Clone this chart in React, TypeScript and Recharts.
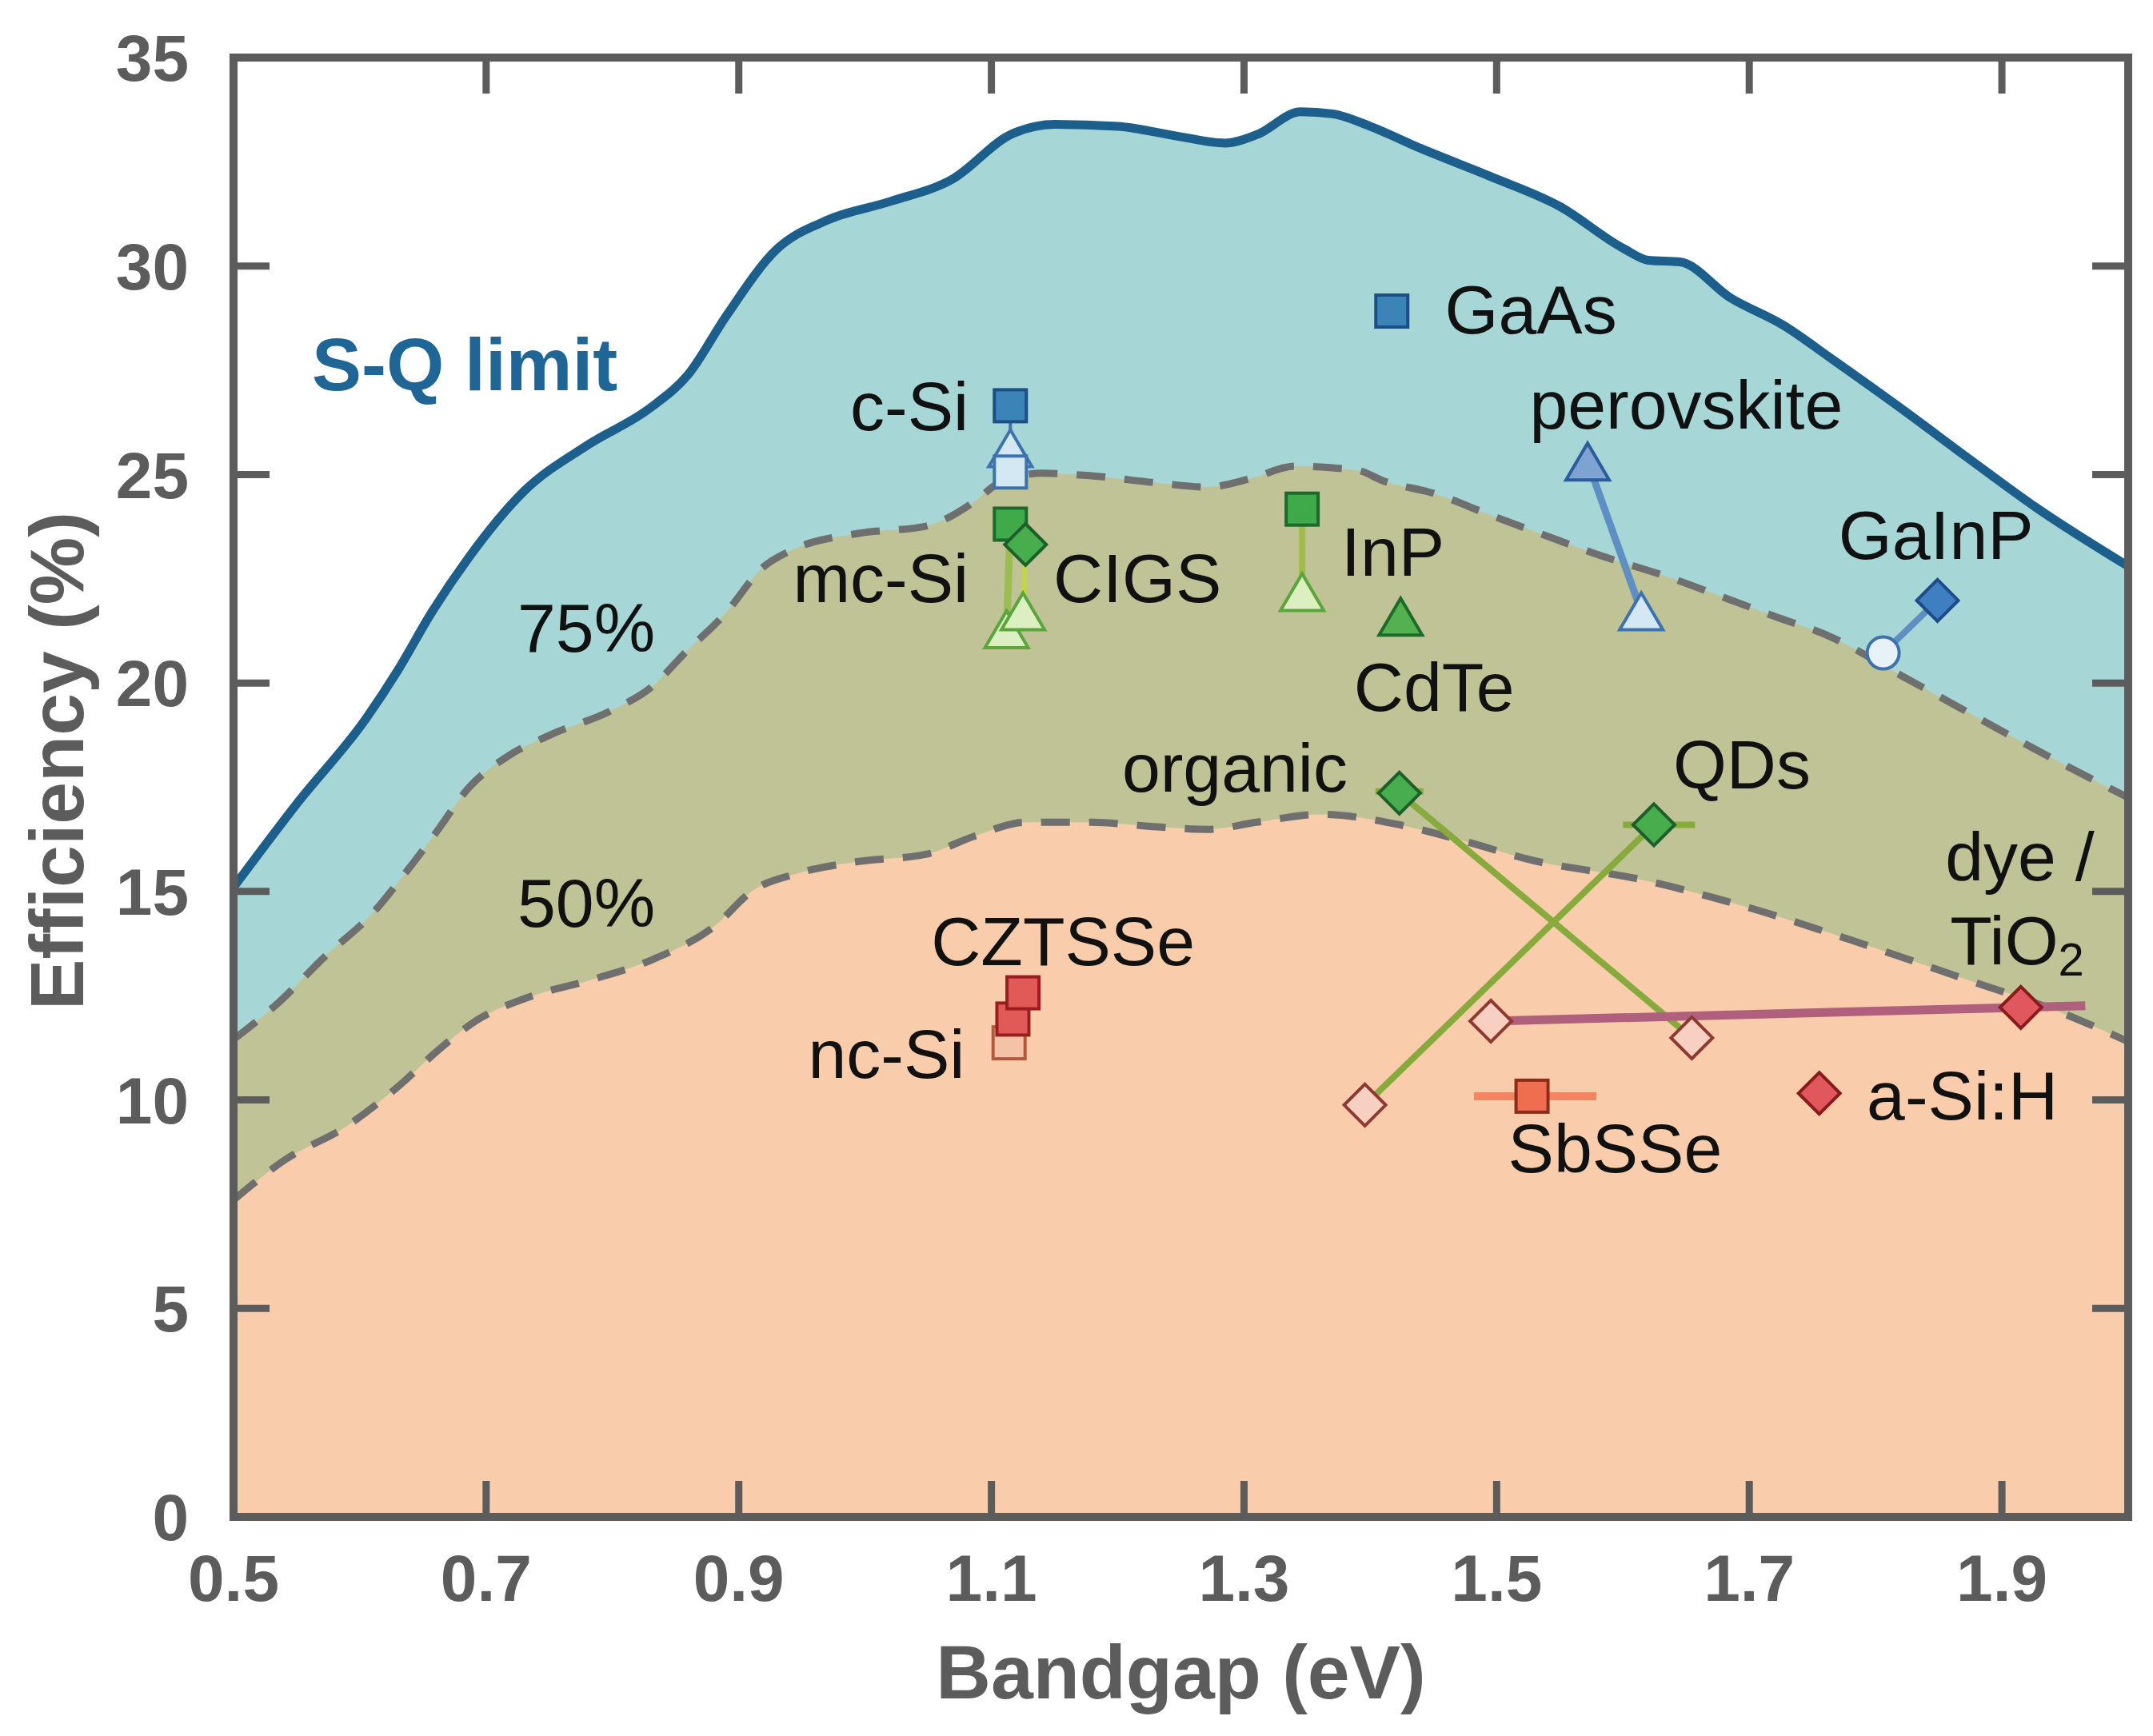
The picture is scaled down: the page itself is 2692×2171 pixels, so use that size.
import React from 'react';
import { ComposedChart, Area, Line, Scatter, XAxis, YAxis, Label } from 'recharts';

// ---------- axis ticks ----------
const xTicks = [0.5, 0.7, 0.9, 1.1, 1.3, 1.5, 1.7, 1.9];
const yTicks = [0, 5, 10, 15, 20, 25, 30, 35];

// ---------- limit curves (bandgap eV, efficiency %) ----------
const sqLimit = [
  { bg: 0.5, eff: 15.1 }, { bg: 0.55, eff: 17.1 }, { bg: 0.605, eff: 19.15 }, { bg: 0.63, eff: 20.3 },
  { bg: 0.657, eff: 21.7 }, { bg: 0.686, eff: 23.0 }, { bg: 0.73, eff: 24.6 }, { bg: 0.78, eff: 25.7 },
  { bg: 0.83, eff: 26.6 }, { bg: 0.86, eff: 27.4 }, { bg: 0.89, eff: 28.8 }, { bg: 0.93, eff: 30.4 },
  { bg: 0.97, eff: 31.1 }, { bg: 1.02, eff: 31.55 }, { bg: 1.07, eff: 32.1 }, { bg: 1.115, eff: 33.15 },
  { bg: 1.15, eff: 33.4 }, { bg: 1.2, eff: 33.35 }, { bg: 1.25, eff: 33.1 }, { bg: 1.285, eff: 32.95 },
  { bg: 1.31, eff: 33.15 }, { bg: 1.345, eff: 33.7 }, { bg: 1.37, eff: 33.65 }, { bg: 1.4, eff: 33.35 },
  { bg: 1.44, eff: 32.82 }, { bg: 1.495, eff: 32.15 }, { bg: 1.55, eff: 31.43 }, { bg: 1.6, eff: 30.43 },
  { bg: 1.62, eff: 30.14 }, { bg: 1.645, eff: 30.1 }, { bg: 1.685, eff: 29.24 }, { bg: 1.727, eff: 28.58 },
  { bg: 1.765, eff: 27.78 }, { bg: 1.82, eff: 26.59 }, { bg: 1.873, eff: 25.4 }, { bg: 1.927, eff: 24.21 },
  { bg: 2.0, eff: 22.8 },
];

const limit75 = [
  { bg: 0.5, eff: 11.45 }, { bg: 0.534, eff: 12.29 }, { bg: 0.573, eff: 13.46 }, { bg: 0.609, eff: 14.44 },
  { bg: 0.638, eff: 15.52 }, { bg: 0.66, eff: 16.4 }, { bg: 0.686, eff: 17.48 }, { bg: 0.718, eff: 18.26 },
  { bg: 0.751, eff: 18.76 }, { bg: 0.799, eff: 19.34 }, { bg: 0.832, eff: 19.93 }, { bg: 0.857, eff: 20.71 },
  { bg: 0.89, eff: 21.69 }, { bg: 0.919, eff: 22.77 }, { bg: 0.943, eff: 23.2 }, { bg: 0.995, eff: 23.59 },
  { bg: 1.048, eff: 23.76 }, { bg: 1.087, eff: 24.36 }, { bg: 1.106, eff: 24.8 }, { bg: 1.14, eff: 25.03 },
  { bg: 1.179, eff: 24.97 }, { bg: 1.231, eff: 24.8 }, { bg: 1.271, eff: 24.7 }, { bg: 1.305, eff: 24.9 },
  { bg: 1.34, eff: 25.2 }, { bg: 1.39, eff: 25.1 }, { bg: 1.41, eff: 24.85 }, { bg: 1.45, eff: 24.55 },
  { bg: 1.494, eff: 24.04 }, { bg: 1.549, eff: 23.42 }, { bg: 1.579, eff: 23.09 }, { bg: 1.636, eff: 22.54 },
  { bg: 1.68, eff: 22.05 }, { bg: 1.72, eff: 21.6 }, { bg: 1.765, eff: 21.1 }, { bg: 1.819, eff: 20.2 },
  { bg: 1.873, eff: 19.3 }, { bg: 1.927, eff: 18.4 }, { bg: 2.0, eff: 17.25 },
];

const limit50 = [
  { bg: 0.5, eff: 7.6 }, { bg: 0.541, eff: 8.57 }, { bg: 0.589, eff: 9.36 }, { bg: 0.631, eff: 10.34 },
  { bg: 0.663, eff: 11.22 }, { bg: 0.692, eff: 11.9 }, { bg: 0.735, eff: 12.48 }, { bg: 0.783, eff: 12.88 },
  { bg: 0.832, eff: 13.37 }, { bg: 0.88, eff: 14.15 }, { bg: 0.912, eff: 15.04 }, { bg: 0.945, eff: 15.42 },
  { bg: 0.995, eff: 15.72 }, { bg: 1.048, eff: 15.89 }, { bg: 1.087, eff: 16.33 }, { bg: 1.127, eff: 16.66 },
  { bg: 1.179, eff: 16.66 }, { bg: 1.231, eff: 16.55 }, { bg: 1.271, eff: 16.49 }, { bg: 1.31, eff: 16.66 },
  { bg: 1.36, eff: 16.85 }, { bg: 1.423, eff: 16.6 }, { bg: 1.475, eff: 16.2 }, { bg: 1.528, eff: 15.75 },
  { bg: 1.612, eff: 15.3 }, { bg: 1.6965, eff: 14.64 }, { bg: 1.78, eff: 13.84 }, { bg: 1.865, eff: 12.96 },
  { bg: 1.949, eff: 12.07 }, { bg: 2.0, eff: 11.4 },
];

// ---------- connecting lines / bars ----------
const csiLink = [{ bg: 1.115, eff: 26.65 }, { bg: 1.115, eff: 25.63 }];
const mcsiLink = [{ bg: 1.115, eff: 23.81 }, { bg: 1.112, eff: 21.29 }];
const cigsLink = [{ bg: 1.127, eff: 23.32 }, { bg: 1.125, eff: 21.72 }];
const inpLink = [{ bg: 1.346, eff: 24.17 }, { bg: 1.346, eff: 22.18 }];
const perovLink = [{ bg: 1.572, eff: 25.31 }, { bg: 1.6145, eff: 21.72 }];
const gainpLink = [{ bg: 1.849, eff: 21.98 }, { bg: 1.806, eff: 20.72 }];
const organicBar = [{ bg: 1.404, eff: 17.4 }, { bg: 1.442, eff: 17.4 }];
const organicLink = [{ bg: 1.423, eff: 17.36 }, { bg: 1.6545, eff: 11.49 }];
const qdsLink = [{ bg: 1.6245, eff: 16.6 }, { bg: 1.3957, eff: 9.88 }];
const qdsBar = [{ bg: 1.6, eff: 16.6 }, { bg: 1.657, eff: 16.6 }];
const dyeLink = [{ bg: 1.4954, eff: 11.89 }, { bg: 1.966, eff: 12.26 }];
const sbsseBar = [{ bg: 1.482, eff: 10.09 }, { bg: 1.579, eff: 10.09 }];

// ---------- markers ----------
const blueSquares = [{ bg: 1.115, eff: 26.65 }, { bg: 1.417, eff: 28.92 }];
const blueOpenTriangles = [{ bg: 1.115, eff: 25.63 }, { bg: 1.6145, eff: 21.72 }];
const blueOpenSquares = [{ bg: 1.115, eff: 25.06 }];
const blueOpenCircles = [{ bg: 1.806, eff: 20.72 }];
const perovTriangles = [{ bg: 1.572, eff: 25.31 }];
const blueDiamonds = [{ bg: 1.849, eff: 21.98 }];
const greenOpenTriangles = [{ bg: 1.112, eff: 21.29 }, { bg: 1.125, eff: 21.72 }, { bg: 1.346, eff: 22.18 }];
const greenSquares = [{ bg: 1.115, eff: 23.81 }, { bg: 1.346, eff: 24.17 }];
const greenDiamonds = [{ bg: 1.127, eff: 23.32 }, { bg: 1.423, eff: 17.36 }, { bg: 1.6245, eff: 16.6 }];
const greenTriangles = [{ bg: 1.424, eff: 21.59 }];
const redOpenSquares = [{ bg: 1.114, eff: 11.37 }];
const redSquares = [{ bg: 1.117, eff: 11.94 }, { bg: 1.125, eff: 12.57 }];
const orangeSquares = [{ bg: 1.528, eff: 10.09 }];
const pinkOpenDiamonds = [{ bg: 1.6545, eff: 11.49 }, { bg: 1.3957, eff: 9.88 }, { bg: 1.4954, eff: 11.89 }];
const redDiamonds = [{ bg: 1.915, eff: 12.22 }, { bg: 1.7554, eff: 10.16 }];

// ---------- text labels (anchored in data coordinates) ----------
const textLabels = [
  { bg: 0.562, eff: 27.02, text: 'S-Q limit' },
  { bg: 0.7248, eff: 20.76, text: '75%' },
  { bg: 0.7248, eff: 14.15, text: '50%' },
  { bg: 1.082, eff: 26.07, text: 'c-Si' },
  { bg: 1.082, eff: 21.94, text: 'mc-Si' },
  { bg: 1.149, eff: 21.94, text: 'CIGS' },
  { bg: 1.1567, eff: 13.24, text: 'CZTSSe' },
  { bg: 1.079, eff: 10.53, text: 'nc-Si' },
  { bg: 1.459, eff: 28.39, text: 'GaAs' },
  { bg: 1.526, eff: 26.1, text: 'perovskite' },
  { bg: 1.7707, eff: 22.98, text: 'GaInP' },
  { bg: 1.377, eff: 22.58, text: 'InP' },
  { bg: 1.387, eff: 19.33, text: 'CdTe' },
  { bg: 1.382, eff: 17.4, text: 'organic' },
  { bg: 1.6397, eff: 17.47, text: 'QDs' },
  { bg: 1.9142, eff: 15.27, text: 'dye /' },
  { bg: 1.912, eff: 13.25, text: 'TiO2' },
  { bg: 1.793, eff: 9.54, text: 'a-Si:H' },
  { bg: 1.509, eff: 8.26, text: 'SbSSe' },
];

// ---------- styles ----------
const W = 2692;
const H = 2171;
const FONT = '"Liberation Sans", Arial, Helvetica, sans-serif';
const AXIS = '#5c5c5c';
const TEAL = '#a7d6d6';
const OLIVE = '#bfc395';
const PEACH = '#f9cdab';
const SQBLUE = '#1c5f8c';
const DASH = '#6f6f6f';

const labelAnchor: Record<string, string> = {
  'c-Si': 'end', 'mc-Si': 'end', 'nc-Si': 'end', organic: 'end',
  CZTSSe: 'middle', 'dye /': 'middle', TiO2: 'middle',
};

const renderLabel = (p: any) => {
  const d = p.payload || {};
  const t: string = d.text;
  if (p.cx == null || p.cy == null) return <g />;
  const anchor = labelAnchor[t] || 'start';
  if (t === 'S-Q limit') {
    return (
      <text x={p.cx} y={p.cy} textAnchor="start" fontFamily={FONT} fontWeight={700} fontSize={93} fill="#1f6596">
        {t}
      </text>
    );
  }
  if (t === 'TiO2') {
    return (
      <text x={p.cx} y={p.cy} textAnchor={anchor} fontFamily={FONT} fontSize={86} fill="#111">
        TiO<tspan fontSize={58} dy={14}>2</tspan>
      </text>
    );
  }
  return (
    <text x={p.cx} y={p.cy} textAnchor={anchor} fontFamily={FONT} fontSize={86} fill="#111">
      {t}
    </text>
  );
};

const SW = 4;
const squareShape = (fill: string, stroke: string, size = 40) => (p: any) =>
  <rect x={p.cx - size / 2} y={p.cy - size / 2} width={size} height={size} fill={fill} stroke={stroke} strokeWidth={SW} />;
const triangleShape = (fill: string, stroke: string, w = 54, h = 46) => (p: any) =>
  <polygon points={`${p.cx},${p.cy - h / 2} ${p.cx + w / 2},${p.cy + h / 2} ${p.cx - w / 2},${p.cy + h / 2}`} fill={fill} stroke={stroke} strokeWidth={SW} strokeLinejoin="miter" />;
const diamondShape = (fill: string, stroke: string, r = 26) => (p: any) =>
  <polygon points={`${p.cx},${p.cy - r} ${p.cx + r},${p.cy} ${p.cx},${p.cy + r} ${p.cx - r},${p.cy}`} fill={fill} stroke={stroke} strokeWidth={SW} />;
const circleShape = (fill: string, stroke: string, r = 20) => (p: any) =>
  <circle cx={p.cx} cy={p.cy} r={r} fill={fill} stroke={stroke} strokeWidth={SW} />;

const renderYTitle = (props: any) => {
  const vb = props && props.viewBox && props.viewBox.height ? props.viewBox : { x: 0, y: 72, width: 292, height: 1825 };
  const x = vb.x + 104;
  const y = vb.y + vb.height / 2 - 33;
  return (
    <text x={x} y={y} transform={`rotate(-90 ${x} ${y})`} textAnchor="middle" fontFamily={FONT} fontWeight={700} fontSize={95} fill={AXIS}>
      Efficiency (%)
    </text>
  );
};

const noTickLabel = () => <g />;

const linkLine = (data: any[], color: string, width: number, key: string) => (
  <Line key={key} data={data} dataKey="eff" type="linear" stroke={color} strokeWidth={width} dot={false} activeDot={false} isAnimationActive={false} legendType="none" />
);

const tickStyle = { fill: AXIS, fontSize: 82, fontWeight: 700, fontFamily: FONT };
const axisLineStyle = { stroke: AXIS, strokeWidth: 10, strokeLinecap: 'square' as const };
const tickLineStyle = { stroke: AXIS, strokeWidth: 9 };

export default function App() {
  return (
    <div style={{ position: 'absolute', left: 0, top: 0, width: W, height: H, background: '#ffffff' }}>
      <ComposedChart width={W} height={H} margin={{ top: 70, right: 29, bottom: 0, left: 0 }}>
        <XAxis
          dataKey="bg" type="number" domain={[0.5, 2.0]} ticks={xTicks} interval={0} allowDataOverflow
          height={274} tickSize={-45} tickMargin={92}
          tickFormatter={(v: number) => v.toFixed(1)}
          tick={tickStyle} axisLine={axisLineStyle} tickLine={tickLineStyle}
        >
          <Label position="insideBottom" offset={47} value="Bandgap (eV)" fill={AXIS} fontSize={95} fontWeight={700} fontFamily={FONT} />
        </XAxis>
        <XAxis
          xAxisId="top" dataKey="bg" orientation="top" type="number" domain={[0.5, 2.0]} ticks={xTicks} interval={0} allowDataOverflow
          height={2} tickSize={-45} tick={noTickLabel} axisLine={axisLineStyle} tickLine={tickLineStyle}
        />
        <YAxis
          dataKey="eff" type="number" domain={[0, 35]} ticks={yTicks} interval={0} allowDataOverflow
          width={292} tickSize={-45} tickMargin={101}
          tick={tickStyle} axisLine={axisLineStyle} tickLine={tickLineStyle}
        >
          <Label content={renderYTitle} />
        </YAxis>
        <YAxis
          yAxisId="right" orientation="right" type="number" domain={[0, 35]} ticks={yTicks} interval={0} allowDataOverflow
          width={2} tickSize={-45} tick={noTickLabel} axisLine={axisLineStyle} tickLine={tickLineStyle}
        />

        <Area data={sqLimit} dataKey="eff" type="monotone" stroke="none" fill={TEAL} fillOpacity={1} dot={false} activeDot={false} isAnimationActive={false} />
        <Area data={limit75} dataKey="eff" type="monotone" stroke="none" fill={OLIVE} fillOpacity={1} dot={false} activeDot={false} isAnimationActive={false} />
        <Area data={limit50} dataKey="eff" type="monotone" stroke="none" fill={PEACH} fillOpacity={1} dot={false} activeDot={false} isAnimationActive={false} />

        <Line data={sqLimit} dataKey="eff" type="monotone" stroke={SQBLUE} strokeWidth={11} dot={false} activeDot={false} isAnimationActive={false} />
        <Line data={limit75} dataKey="eff" type="monotone" stroke={DASH} strokeWidth={9} strokeDasharray="36 24" dot={false} activeDot={false} isAnimationActive={false} />
        <Line data={limit50} dataKey="eff" type="monotone" stroke={DASH} strokeWidth={9} strokeDasharray="36 24" dot={false} activeDot={false} isAnimationActive={false} />

        {linkLine(csiLink, '#3d72ae', 4, 'csi')}
        {linkLine(mcsiLink, '#9bbd52', 9, 'mcsi')}
        {linkLine(cigsLink, '#c2d843', 6, 'cigs')}
        {linkLine(inpLink, '#a0bd4c', 8, 'inp')}
        {linkLine(perovLink, '#5d8fc4', 9, 'perov')}
        {linkLine(gainpLink, '#5d8fc4', 8, 'gainp')}
        {linkLine(organicBar, '#86aa3c', 8, 'orgbar')}
        {linkLine(organicLink, '#86aa3c', 8, 'org')}
        {linkLine(qdsLink, '#86aa3c', 8, 'qds')}
        {linkLine(qdsBar, '#86aa3c', 8, 'qdsbar')}
        {linkLine(dyeLink, '#b0607c', 11, 'dye')}
        {linkLine(sbsseBar, '#f3845f', 10, 'sbsse')}

        <Scatter data={blueOpenTriangles} shape={triangleShape('#d3e8f3', '#3d72ae')} isAnimationActive={false} />
        <Scatter data={blueOpenSquares} shape={squareShape('#d3e8f3', '#3d72ae')} isAnimationActive={false} />
        <Scatter data={blueOpenCircles} shape={circleShape('#e6f2f6', '#3d72ae')} isAnimationActive={false} />
        <Scatter data={blueSquares} shape={squareShape('#3b84b8', '#1b4f86')} isAnimationActive={false} />
        <Scatter data={perovTriangles} shape={triangleShape('#7ea2d2', '#2b5c9c')} isAnimationActive={false} />
        <Scatter data={blueDiamonds} shape={diamondShape('#3d7fc0', '#1c4c8a')} isAnimationActive={false} />
        <Scatter data={greenOpenTriangles} shape={triangleShape('#dcefc0', '#5ba53d')} isAnimationActive={false} />
        <Scatter data={greenSquares} shape={squareShape('#3faa4a', '#1b6a2b')} isAnimationActive={false} />
        <Scatter data={greenDiamonds} shape={diamondShape('#48ad4c', '#1d5e2b')} isAnimationActive={false} />
        <Scatter data={greenTriangles} shape={triangleShape('#55b04f', '#1d6b2b')} isAnimationActive={false} />
        <Scatter data={redOpenSquares} shape={squareShape('#f4c2a6', '#b25a3d')} isAnimationActive={false} />
        <Scatter data={redSquares} shape={squareShape('#e05b58', '#9b1d1f')} isAnimationActive={false} />
        <Scatter data={orangeSquares} shape={squareShape('#ee6e4f', '#8d2c19')} isAnimationActive={false} />
        <Scatter data={pinkOpenDiamonds} shape={diamondShape('#f7d0c1', '#8e3a33')} isAnimationActive={false} />
        <Scatter data={redDiamonds} shape={diamondShape('#e0575d', '#8a1b1d')} isAnimationActive={false} />

        <Scatter data={textLabels} shape={renderLabel} isAnimationActive={false} />
      </ComposedChart>
    </div>
  );
}
